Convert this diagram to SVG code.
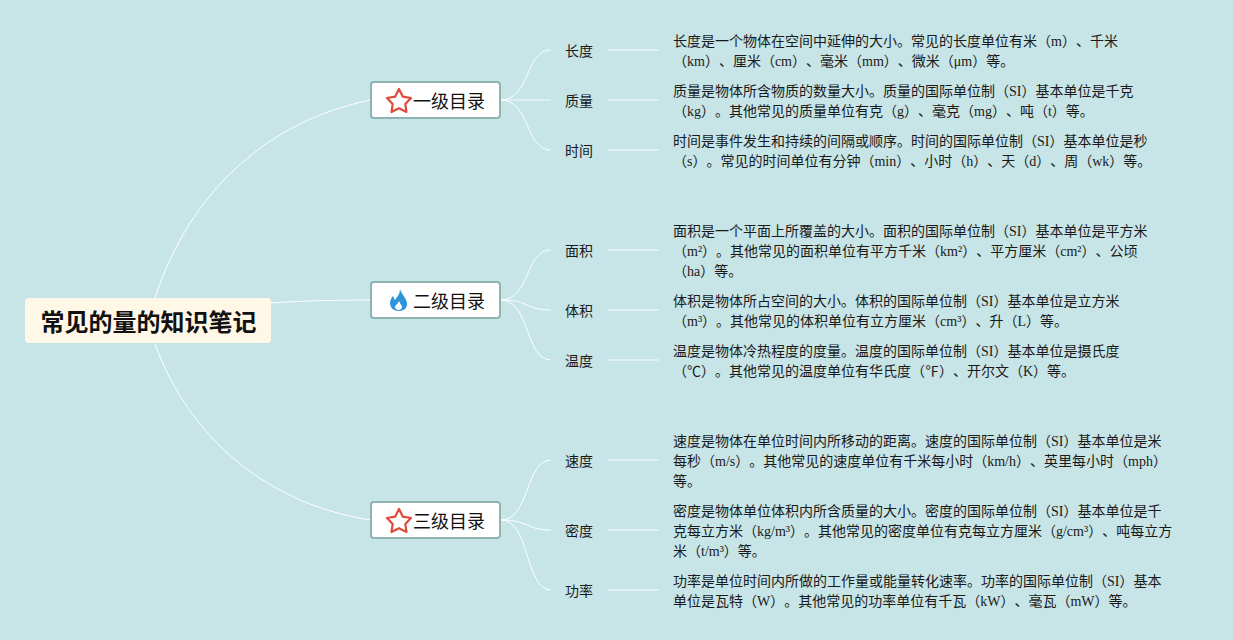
<svg xmlns="http://www.w3.org/2000/svg" width="1233" height="640" viewBox="0 0 1233 640">
<style>
text{font-family:"Liberation Serif","Noto Sans CJK SC",serif;fill:#1a1a1a;text-spacing-trim:space-all}
.d{font-size:14px}
.c{font-size:14px;text-anchor:middle}
.l{font-size:18px;fill:#111}
.r{font-size:24px;font-weight:700;fill:#111}
.b{fill:#fff;stroke:#8fb3b0;stroke-width:2}
.w{fill:none;stroke:#fff;stroke-width:1}
.s{fill:none;stroke:#fff;stroke-width:1.5;opacity:.55}
.st{fill:none;stroke:#e04a3a;stroke-width:2.2;stroke-linejoin:round}
</style>
<defs>
<path id="star" d="M399 89L402.900 96.700L411 98L405.300 103.900L406.500 112L399 108.300L391.500 112L392.700 103.900L387 98L395.100 96.700Z"/>
</defs>
<rect width="1233" height="640" fill="#c7e4e6"/>
<g id="connectors">
<path class="w" d="M155 298C190 190 270 120 371 100"/>
<path class="w" d="M271 303C300 301 335 300 371 300"/>
<path class="w" d="M155 344C190 440 270 505 371 520"/>
<path class="w" d="M501 100C530 100 525 50 551 50"/>
<path class="s" d="M501 100H551"/>
<path class="w" d="M501 100C530 100 525 150 551 150"/>
<path class="w" d="M501 300C530 300 525 250 551 250"/>
<path class="w" d="M501 300C530 300 525 310 551 310"/>
<path class="w" d="M501 300C530 300 525 360 551 360"/>
<path class="w" d="M501 520C530 520 525 460 551 460"/>
<path class="w" d="M501 520C530 520 525 530 551 530"/>
<path class="w" d="M501 520C530 520 525 590 551 590"/>
<path class="s" d="M608 50H659M608 100H659M608 150H659M608 250H659M608 310H659M608 360H659M608 460H659M608 530H659M608 590H659"/>
</g>
<g id="root"><rect x="25" y="298" width="246" height="45" rx="4" fill="#fff8e6"/><text class="r" x="40.500" y="331">常见的量的知识笔记</text></g>
<g id="n1"><rect class="b" x="371" y="82" width="129" height="36" rx="3"/><use href="#star" class="st"/><text class="l" x="413" y="108">一级目录</text></g>
<g id="n2"><rect class="b" x="371" y="282" width="129" height="36" rx="3"/><path fill="#2e94dc" d="M400 289C401 294 407 298 407 304C407 309 403 311 399 311C394 311 390 308 390 303C390 300 392 297 393 296C394 298 394 299 395 300C397 297 400 294 400 289Z"/><path fill="#fff" d="M399 301C400 304 402 305 402 307C402 309 400 310 398.500 310C397 310 395 309 395 307C395 305 398 304 399 301Z"/><text class="l" x="413" y="308">二级目录</text></g>
<g id="n3"><rect class="b" x="371" y="502" width="129" height="36" rx="3"/><use href="#star" class="st" y="420"/><text class="l" x="413" y="528">三级目录</text></g>
<g id="c1"><text class="c" x="579" y="56">长度</text><text class="d" x="673" y="46">长度是一个物体在空间中延伸的大小。常见的长度单位有米（m）、千米</text><text class="d" x="673" y="66">（km）、厘米（cm）、毫米（mm）、微米（μm）等。</text></g>
<g id="c2"><text class="c" x="579" y="106">质量</text><text class="d" x="673" y="96">质量是物体所含物质的数量大小。质量的国际单位制（SI）基本单位是千克</text><text class="d" x="673" y="116">（kg）。其他常见的质量单位有克（g）、毫克（mg）、吨（t）等。</text></g>
<g id="c3"><text class="c" x="579" y="156">时间</text><text class="d" x="673" y="146">时间是事件发生和持续的间隔或顺序。时间的国际单位制（SI）基本单位是秒</text><text class="d" x="673" y="166">（s）。常见的时间单位有分钟（min）、小时（h）、天（d）、周（wk）等。</text></g>
<g id="c4"><text class="c" x="579" y="256">面积</text><text class="d" x="673" y="236">面积是一个平面上所覆盖的大小。面积的国际单位制（SI）基本单位是平方米</text><text class="d" x="673" y="256">（m²）。其他常见的面积单位有平方千米（km²）、平方厘米（cm²）、公顷</text><text class="d" x="673" y="276">（ha）等。</text></g>
<g id="c5"><text class="c" x="579" y="316">体积</text><text class="d" x="673" y="306">体积是物体所占空间的大小。体积的国际单位制（SI）基本单位是立方米</text><text class="d" x="673" y="326">（m³）。其他常见的体积单位有立方厘米（cm³）、升（L）等。</text></g>
<g id="c6"><text class="c" x="579" y="366">温度</text><text class="d" x="673" y="356">温度是物体冷热程度的度量。温度的国际单位制（SI）基本单位是摄氏度</text><text class="d" x="673" y="376">（℃）。其他常见的温度单位有华氏度（℉）、开尔文（K）等。</text></g>
<g id="c7"><text class="c" x="579" y="466">速度</text><text class="d" x="673" y="446">速度是物体在单位时间内所移动的距离。速度的国际单位制（SI）基本单位是米</text><text class="d" x="673" y="466">每秒（m/s）。其他常见的速度单位有千米每小时（km/h）、英里每小时（mph）</text><text class="d" x="673" y="486">等。</text></g>
<g id="c8"><text class="c" x="579" y="536">密度</text><text class="d" x="673" y="516">密度是物体单位体积内所含质量的大小。密度的国际单位制（SI）基本单位是千</text><text class="d" x="673" y="536">克每立方米（kg/m³）。其他常见的密度单位有克每立方厘米（g/cm³）、吨每立方</text><text class="d" x="673" y="556">米（t/m³）等。</text></g>
<g id="c9"><text class="c" x="579" y="596">功率</text><text class="d" x="673" y="586">功率是单位时间内所做的工作量或能量转化速率。功率的国际单位制（SI）基本</text><text class="d" x="673" y="606">单位是瓦特（W）。其他常见的功率单位有千瓦（kW）、毫瓦（mW）等。</text></g>
</svg>
